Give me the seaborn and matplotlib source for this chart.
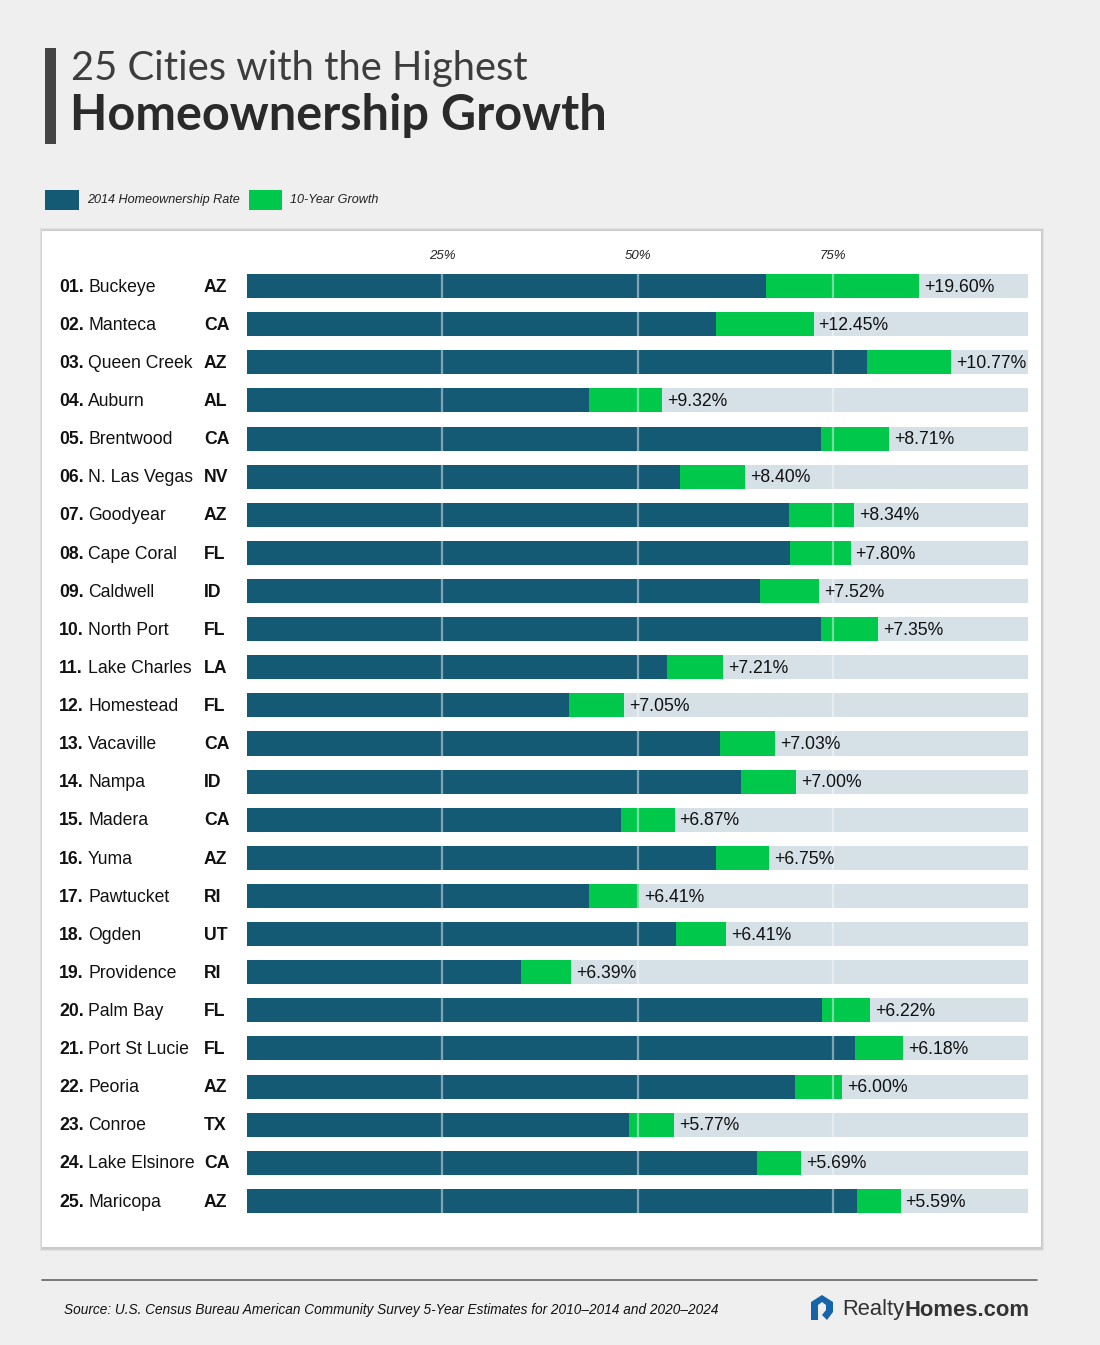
import numpy as np
import pandas as pd
import seaborn as sns
import matplotlib.pyplot as plt
from matplotlib.patches import Rectangle, Polygon
from matplotlib.transforms import blended_transform_factory

# data
ranks = ["01.", "02.", "03.", "04.", "05.", "06.", "07.", "08.", "09.", "10.",
         "11.", "12.", "13.", "14.", "15.", "16.", "17.", "18.", "19.", "20.",
         "21.", "22.", "23.", "24.", "25."]
cities = ["Buckeye", "Manteca", "Queen Creek", "Auburn", "Brentwood", "N. Las Vegas",
          "Goodyear", "Cape Coral", "Caldwell", "North Port", "Lake Charles", "Homestead",
          "Vacaville", "Nampa", "Madera", "Yuma", "Pawtucket", "Ogden", "Providence",
          "Palm Bay", "Port St Lucie", "Peoria", "Conroe", "Lake Elsinore", "Maricopa"]
states = ["AZ", "CA", "AZ", "AL", "CA", "NV", "AZ", "FL", "ID", "FL", "LA", "FL", "CA",
          "ID", "CA", "AZ", "RI", "UT", "RI", "FL", "FL", "AZ", "TX", "CA", "AZ"]
rate_2014 = [66.5, 60.1, 79.4, 43.8, 73.5, 55.4, 69.4, 69.5, 65.7, 73.5, 53.8, 41.2,
             60.6, 63.3, 47.9, 60.1, 43.8, 54.9, 35.1, 73.6, 77.8, 70.2, 48.9, 65.3, 78.1]
growth = [19.60, 12.45, 10.77, 9.32, 8.71, 8.40, 8.34, 7.80, 7.52, 7.35, 7.21, 7.05,
          7.03, 7.00, 6.87, 6.75, 6.41, 6.41, 6.39, 6.22, 6.18, 6.00, 5.77, 5.69, 5.59]
grid_ticks = [25, 50, 75]

BLUE = "#155a74"
GREEN = "#00c84b"
TRACK = "#d5e0e7"
BG = "#efefef"

df = pd.DataFrame({"city": cities, "rate": rate_2014, "growth": growth})
df["total"] = df["rate"] + df["growth"]
df["full"] = 100

sns.set_style("white")
plt.rcParams["font.family"] = ["Liberation Sans", "DejaVu Sans"]

W, H = 1100, 1345
fig = plt.figure(figsize=(W / 100, H / 100), dpi=100, facecolor=BG)

# white panel with soft shadow
for i, a in enumerate([0.05, 0.05, 0.06]):
    fig.patches.append(Rectangle(((42 - i) / W, 1 - (1248 + i + 1) / H), (999 + 2 * i + 1) / W,
                                 (1018 + 2 * i + 1) / H, transform=fig.transFigure,
                                 facecolor="black", alpha=a, edgecolor="none", zorder=0))
fig.patches.append(Rectangle((42 / W, 1 - 1247 / H), 999 / W, 1016 / H, transform=fig.transFigure,
                             facecolor="white", edgecolor="none", zorder=1))

ax = fig.add_axes([247 / W, 1 - 1220 / H, 781 / W, (1220 - 267) / H])
ax.set_facecolor("none")
ax.set_zorder(2)

sns.barplot(data=df, x="full", y="city", orient="h", color=TRACK, width=0.63,
            saturation=1, ax=ax)
sns.barplot(data=df, x="total", y="city", orient="h", color=GREEN, width=0.63,
            saturation=1, ax=ax)
sns.barplot(data=df, x="rate", y="city", orient="h", color=BLUE, width=0.63,
            saturation=1, ax=ax)
for p in ax.patches:
    p.set_edgecolor("none")

ax.set_xlim(0, 100)
ax.set_ylim(len(cities) - 0.5, -0.5)
for t in grid_ticks:
    ax.axvline(t, color="white", alpha=0.45, lw=1.6, zorder=5)
    ax.text(t, -0.78, f"{t}%", ha="center", va="center", fontsize=9.5,
            style="italic", color="#222222")
ax.set_xlabel("")
ax.set_ylabel("")
ax.set_xticks([])
ax.set_yticks([])
sns.despine(ax=ax, left=True, bottom=True)

tr = blended_transform_factory(fig.transFigure, ax.transData)
for i, row in df.iterrows():
    ax.text(59 / W, i + 0.03, ranks[i], transform=tr, ha="left", va="center",
            fontsize=12.7, fontweight="bold", color="#111111")
    ax.text(88 / W, i + 0.03, cities[i], transform=tr, ha="left", va="center",
            fontsize=12.7, color="#111111")
    ax.text(204 / W, i + 0.03, states[i], transform=tr, ha="left", va="center",
            fontsize=12.7, fontweight="bold", color="#111111")
    ax.annotate(f"+{growth[i]:.2f}%", xy=(row["total"], i + 0.03), xytext=(3.5, 0),
                textcoords="offset points", ha="left", va="center",
                fontsize=12.7, color="#111111", zorder=6)

# title block
fig.patches.append(Rectangle((45 / W, 1 - 144 / H), 11 / W, 96 / H, transform=fig.transFigure,
                             facecolor="#444444", edgecolor="none"))
fig.text(71 / W, 1 - 80 / H, "25 Cities with the Highest", fontsize=28.7,
         family=["Lato", "DejaVu Sans"], color="#3d3d3d", va="baseline", ha="left")
fig.text(70 / W, 1 - 130 / H, "Homeownership Growth", fontsize=35, fontweight="bold",
         family=["Lato", "DejaVu Sans"], color="#2a2a2a", va="baseline", ha="left")

# legend
fig.patches.append(Rectangle((45 / W, 1 - 210 / H), 34 / W, 20 / H, transform=fig.transFigure,
                             facecolor=BLUE, edgecolor="none"))
fig.text(87 / W, 1 - 200 / H, "2014 Homeownership Rate", fontsize=9.1, style="italic",
         color="#222222", va="center")
fig.patches.append(Rectangle((249 / W, 1 - 210 / H), 33 / W, 20 / H, transform=fig.transFigure,
                             facecolor=GREEN, edgecolor="none"))
fig.text(290 / W, 1 - 200 / H, "10-Year Growth", fontsize=9.1, style="italic",
         color="#222222", va="center")

# footer
fig.add_artist(plt.Line2D([42 / W, 1037 / W], [1 - 1280 / H, 1 - 1280 / H],
                          transform=fig.transFigure, color="#666666", lw=1.2))
fig.text(64 / W, 1 - 1310 / H,
         "Source: U.S. Census Bureau American Community Survey 5-Year Estimates for 2010\u20132014 and 2020\u20132024",
         fontsize=9.8, style="italic", color="#111111", va="center", ha="left")
icon = np.array([[811, 1302], [822, 1295], [833, 1302], [833, 1312], [827, 1320],
                 [822, 1315], [826, 1310], [826, 1305], [822, 1302], [818, 1305],
                 [818, 1320], [811, 1320]], dtype=float)
icon[:, 0] /= W
icon[:, 1] = 1 - icon[:, 1] / H
fig.patches.append(Polygon(icon, closed=True, transform=fig.transFigure,
                           facecolor="#1565a8", edgecolor="none"))
t1 = fig.text(842 / W, 1 - 1310 / H, "Realty", fontsize=15.8, color="#333333",
              va="center", ha="left")
fig.canvas.draw()
bb = t1.get_window_extent()
fig.text(bb.x1 / W, 1 - 1310 / H, "Homes.com", fontsize=15.8, fontweight="bold",
         color="#333333", va="center", ha="left")

fig.savefig("out.png", dpi=100, facecolor=BG)
